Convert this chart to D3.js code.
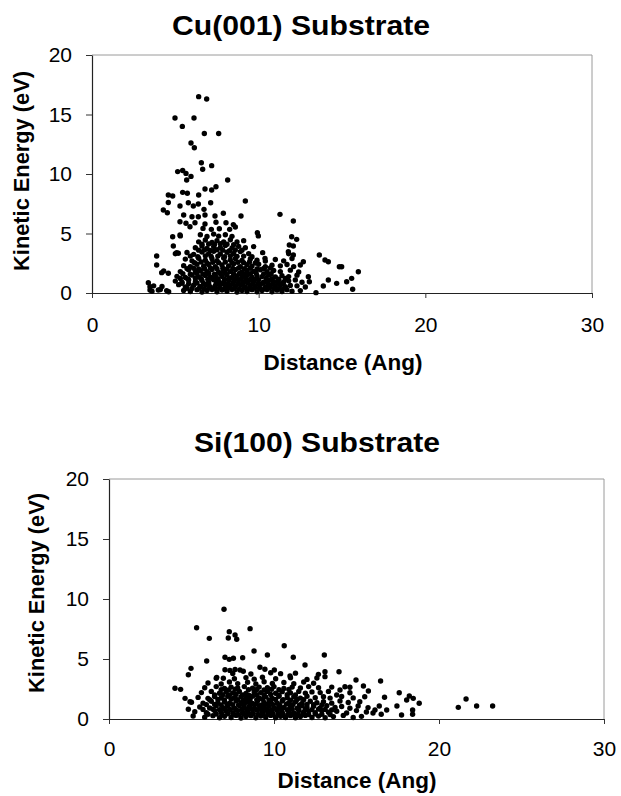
<!DOCTYPE html>
<html>
<head>
<meta charset="utf-8">
<script src="https://cdn.jsdelivr.net/npm/d3@7"></script>
<style>
  html, body { margin: 0; padding: 0; background: #fff; }
  svg { display: block; }
  text { font-family: "Liberation Sans", Arial, sans-serif; fill: #000; }
</style>
</head>
<body>
<svg id="chart" width="621" height="796"></svg>
<script>
// ---------- data ----------
const xTicks = [0, 10, 20, 30];
const yTicks = [0, 5, 10, 15, 20];
const titles = ["Cu(001) Substrate", "Si(100) Substrate"];
const xLabel = "Distance (Ang)";
const yLabel = "Kinetic Energy (eV)";

// Cu(001): [distance (Ang), kinetic energy (eV)]
const cuPoints = [
  [6.4,16.5],[6.88,16.3],[4.98,14.7],[6.12,14.7],[5.42,14.0],[6.74,13.4],[7.6,13.4],[5.94,12.6],[6.14,12.2],
  [6.56,10.95],[7.18,10.7],[6.64,10.4],[5.14,10.2],[5.44,10.3],[5.64,10.05],[5.68,9.5],[5.94,9.8],[8.14,9.5],
  [6.78,8.74],[7.18,8.66],[7.44,8.93],[5.44,8.46],[5.72,8.38],[4.58,8.24],[4.84,8.15],[6.4,8.24],[4.58,7.6],
  [5.28,7.31],[5.78,7.59],[6.08,7.31],[6.38,7.48],[7.12,7.59],[6.72,7.03],[9.2,7.73],[4.28,6.97],[4.52,6.75],
  [5.5,6.55],[6.0,6.41],[6.38,6.41],[6.78,6.55],[7.38,6.47],[7.88,6.7],[8.94,6.47],[11.28,6.61],[12.08,6.05],
  [5.28,5.99],[5.64,5.86],[5.88,5.57],[6.18,5.9],[6.78,5.8],[7.44,5.95],[8.04,5.9],[8.48,5.75],[6.66,5.43],
  [7.16,5.35],[7.64,5.4],[8.26,5.35],[8.6,5.55],[9.92,5.07],[9.98,4.8],[5.28,4.87],[4.84,4.73],[11.98,4.73],
  [12.28,4.51],[11.84,4.03],[12.08,3.95],[11.78,3.47],[4.88,3.95],[5.08,3.39],[5.18,3.34],[12.08,3.2],
  [10.24,3.39],[10.38,2.91],[13.64,3.19],[13.98,2.77],[14.18,2.63],[12.68,2.63],[3.88,3.11],[3.88,2.35],
  [4.18,1.71],[4.58,1.66],[3.38,0.87],[3.48,0.53],[3.48,0.25],[3.98,0.25],[4.48,0.2],[14.84,2.21],[14.18,1.09],
  [14.68,0.81],[13.44,0.03],[12.98,1.37],[13.04,0.95],[14.98,2.21],[15.98,1.79],[15.58,1.23],[15.28,0.95],
  [15.64,0.31],[13.88,0.59],
  // dense core
  [3.6,0.15],[4.1,0.3],[4.6,0.1],[5.5,0.22],[5.9,0.12],[6.3,0.28],[6.6,0.08],[6.9,0.2],[7.2,0.3],[7.5,0.1],
  [7.8,0.25],[8.1,0.14],[8.4,0.3],[8.7,0.08],[9.0,0.22],[9.3,0.12],[9.6,0.28],[9.9,0.1],[10.2,0.2],[10.5,0.3],
  [10.8,0.1],[11.1,0.24],[11.4,0.12],[11.7,0.28],[12.0,0.15],[12.5,0.2],
  [3.7,0.6],[4.2,0.55],[5.2,0.7],[5.6,0.5],[6.1,0.65],[6.5,0.55],[6.8,0.7],[7.1,0.5],[7.4,0.62],[7.7,0.72],
  [8.0,0.52],[8.3,0.66],[8.6,0.56],[8.9,0.7],[9.2,0.5],[9.5,0.64],[9.8,0.58],[10.1,0.72],[10.4,0.5],[10.7,0.66],
  [11.0,0.55],[11.3,0.7],[11.6,0.52],[11.9,0.64],[12.3,0.6],[12.8,0.5],
  [5.0,1.0],[5.4,0.9],[5.8,1.1],[6.2,0.95],[6.6,1.05],[7.0,0.92],[7.3,1.12],[7.6,1.0],[7.9,0.9],[8.2,1.08],
  [8.5,0.96],[8.8,1.1],[9.1,0.92],[9.4,1.04],[9.7,0.98],[10.0,1.12],[10.3,0.9],[10.6,1.06],[10.9,0.95],
  [11.2,1.1],[11.5,0.92],[11.8,1.02],[12.2,1.1],[12.6,0.9],
  [5.1,1.4],[5.6,1.3],[6.0,1.5],[6.4,1.35],[6.8,1.48],[7.1,1.32],[7.4,1.45],[7.8,1.38],[8.1,1.52],[8.4,1.3],
  [8.7,1.44],[9.0,1.36],[9.3,1.5],[9.6,1.32],[9.9,1.46],[10.2,1.38],[10.6,1.5],[11.0,1.34],[11.4,1.46],
  [11.8,1.38],[12.3,1.5],
  [4.3,1.85],[5.3,1.8],[5.8,1.95],[6.2,1.75],[6.5,1.9],[6.9,1.8],[7.2,1.98],[7.6,1.74],[7.9,1.88],[8.3,1.8],
  [8.6,1.96],[9.0,1.76],[9.3,1.9],[9.7,1.82],[10.1,1.95],[10.5,1.78],[10.9,1.9],[11.3,1.8],[11.9,1.92],[12.4,1.76],
  [5.5,2.3],[5.9,2.2],[6.3,2.42],[6.7,2.25],[7.0,2.4],[7.4,2.22],[7.8,2.36],[8.2,2.28],[8.5,2.46],[8.9,2.2],
  [9.3,2.38],[9.6,2.26],[10.0,2.42],[10.4,2.2],[10.8,2.34],[11.3,2.28],[11.7,2.4],[12.1,2.22],[12.5,2.35],
  [5.6,2.85],[6.0,2.7],[6.4,2.92],[6.8,2.75],[7.2,2.88],[7.5,2.72],[7.9,2.95],[8.3,2.78],[8.6,2.9],[9.0,2.74],
  [9.5,2.86],[9.9,2.76],[10.4,2.68],[11.0,2.82],[11.5,2.7],[12.0,2.9],
  [5.0,3.3],[5.7,3.4],[6.1,3.25],[6.6,3.45],[7.0,3.3],[7.3,3.5],[7.7,3.28],[8.1,3.42],[8.5,3.32],[8.9,3.48],
  [9.4,3.3],[11.8,3.3],
  [6.2,3.8],[6.6,3.95],[6.9,3.75],[7.3,3.9],[7.7,3.8],[8.0,4.0],[8.4,3.78],[8.8,3.92],[9.2,3.8],[9.7,3.9],
  [6.4,4.3],[6.8,4.45],[7.2,4.25],[7.5,4.4],[7.9,4.3],[8.3,4.48],[8.7,4.28],[9.1,4.4],
  [5.3,4.8],[6.5,4.9],[6.9,4.75],[7.3,4.95],[7.6,4.78],[8.0,4.9],[8.4,4.76],
  // dense core, second layer
  [5.7,0.4],[6.0,0.38],[6.45,0.42],[6.75,0.36],[7.05,0.44],[7.35,0.38],[7.65,0.42],[7.95,0.36],[8.25,0.44],
  [8.55,0.4],[8.85,0.36],[9.15,0.44],[9.45,0.38],[9.75,0.42],[10.05,0.4],[10.35,0.36],[10.65,0.44],[10.95,0.4],
  [11.25,0.38],[11.55,0.42],
  [5.4,0.82],[5.8,0.78],[6.3,0.84],[6.7,0.8],[7.0,0.76],[7.45,0.84],[7.85,0.8],[8.15,0.78],[8.45,0.84],
  [8.75,0.8],[9.05,0.76],[9.35,0.84],[9.65,0.8],[9.95,0.78],[10.25,0.84],[10.55,0.8],[10.85,0.76],[11.15,0.82],
  [11.45,0.8],
  [5.3,1.22],[5.75,1.18],[6.2,1.24],[6.55,1.2],[6.95,1.16],[7.25,1.24],[7.55,1.2],[7.95,1.18],[8.25,1.24],
  [8.6,1.2],[8.95,1.16],[9.25,1.22],[9.55,1.2],[9.85,1.18],[10.45,1.22],[10.8,1.2],[11.2,1.16],[11.6,1.22],
  [5.45,1.62],[5.9,1.58],[6.3,1.64],[6.65,1.6],[7.0,1.66],[7.35,1.58],[7.7,1.62],[8.0,1.66],[8.5,1.6],
  [8.85,1.64],[9.15,1.58],[9.5,1.62],[9.85,1.66],[10.3,1.6],[10.75,1.62],
  [5.7,2.05],[6.1,2.08],[6.4,2.02],[6.75,2.06],[7.1,2.1],[7.5,2.04],[7.85,2.08],[8.1,2.02],[8.45,2.06],
  [8.8,2.1],[9.15,2.04],[9.5,2.08],[9.9,2.02],[10.3,2.06],[10.7,2.1],
  [6.15,2.55],[6.55,2.6],[6.9,2.52],[7.25,2.58],[7.6,2.55],[8.0,2.6],[8.4,2.52],[8.75,2.58],[9.1,2.55],
  [9.45,2.6],[9.8,2.52],
  [5.9,3.1],[6.35,3.05],[6.8,3.12],[7.15,3.08],[7.55,3.1],[7.95,3.05],[8.3,3.12],[8.7,3.08],[9.1,3.1],[9.6,3.05],
  [6.4,3.6],[6.75,3.62],[7.1,3.58],[7.5,3.64],[7.85,3.6],[8.25,3.56],[8.6,3.62],[9.0,3.6],
  [6.6,4.1],[7.0,4.12],[7.35,4.08],[7.7,4.14],[8.1,4.1],[8.5,4.06]
];

// Si(100): [distance (Ang), kinetic energy (eV)]
const siPoints = [
  [6.97,9.14],[5.31,7.61],[8.55,7.53],[7.29,7.28],[7.64,7.0],[7.74,6.64],[7.23,6.75],[6.08,6.72],[10.62,6.11],
  [8.79,5.67],[9.6,5.33],[11.17,5.14],[13.05,5.33],[7.03,5.14],[7.29,4.97],[7.54,5.06],[8.1,5.11],[5.92,4.83],
  [4.97,4.22],[4.81,3.69],[7.03,4.1],[7.33,4.05],[7.64,4.12],[7.94,4.08],[8.14,3.98],[9.15,4.31],[9.45,4.14],
  [10.02,4.08],[10.97,3.58],[11.88,4.5],[12.69,3.72],[13.09,3.94],[13.09,3.53],[13.94,3.94],[6.53,3.47],
  [6.93,3.39],[4.0,2.56],[4.34,2.47],[4.61,1.72],[4.91,1.44],[4.81,0.81],[5.1,0.25],[14.3,2.69],[14.0,2.42],
  [13.8,2.0],[14.97,3.25],[16.46,3.17],[15.42,2.75],[15.72,2.33],[14.6,2.64],[14.6,2.19],[17.59,2.19],
  [18.2,1.92],[18.44,1.72],[18.04,1.58],[18.8,1.31],[16.7,1.81],[17.45,1.08],[18.4,0.75],[18.4,0.4],[17.73,0.33],
  [21.17,0.97],[21.64,1.67],[22.28,1.08],[23.25,1.08],[16.38,1.08],[16.12,0.75],[16.5,0.4],[16.83,0.75],
  // dense core
  [5.8,0.15],[6.3,0.28],[6.7,0.1],[7.0,0.22],[7.4,0.12],[7.7,0.3],[8.0,0.08],[8.3,0.2],[8.6,0.28],[8.9,0.1],
  [9.2,0.24],[9.5,0.14],[9.8,0.3],[10.1,0.1],[10.4,0.22],[10.7,0.12],[11.0,0.28],[11.3,0.1],[11.6,0.2],
  [11.9,0.3],[12.3,0.12],[12.7,0.24],[13.1,0.1],[13.6,0.2],[14.2,0.3],[14.8,0.12],[15.3,0.22],
  [5.2,0.6],[5.9,0.52],[6.4,0.7],[6.8,0.55],[7.1,0.66],[7.5,0.5],[7.8,0.7],[8.1,0.56],[8.4,0.64],[8.7,0.5],
  [9.0,0.72],[9.3,0.58],[9.6,0.66],[9.9,0.52],[10.2,0.7],[10.5,0.55],[10.9,0.64],[11.2,0.5],[11.5,0.7],
  [11.8,0.58],[12.1,0.66],[12.5,0.52],[12.9,0.7],[13.3,0.56],[13.8,0.64],[14.4,0.5],[15.0,0.7],[15.6,0.58],[16.0,0.5],
  [5.5,1.0],[6.1,0.92],[6.5,1.1],[6.9,0.95],[7.2,1.06],[7.6,0.9],[7.9,1.12],[8.2,0.96],[8.5,1.04],[8.8,0.9],
  [9.1,1.1],[9.4,0.98],[9.7,1.06],[10.0,0.92],[10.3,1.1],[10.6,0.96],[11.0,1.04],[11.4,0.9],[11.7,1.1],
  [12.0,0.98],[12.4,1.06],[12.8,0.92],[13.2,1.1],[13.7,0.96],[14.1,1.04],[14.6,0.9],[15.1,1.08],[15.7,0.95],
  [5.0,1.4],[5.7,1.32],[6.2,1.48],[6.6,1.35],[7.0,1.45],[7.3,1.3],[7.7,1.5],[8.0,1.36],[8.4,1.44],[8.7,1.3],
  [9.0,1.5],[9.4,1.38],[9.8,1.46],[10.2,1.32],[10.5,1.5],[10.9,1.36],[11.3,1.44],[11.7,1.3],[12.2,1.48],
  [12.6,1.36],[13.0,1.44],[13.5,1.32],[14.0,1.5],[14.5,1.38],[15.2,1.44],
  [5.4,1.8],[6.0,1.72],[6.4,1.88],[6.8,1.75],[7.2,1.9],[7.6,1.78],[8.0,1.86],[8.3,1.72],[8.7,1.9],[9.1,1.76],
  [9.5,1.84],[9.9,1.72],[10.3,1.9],[10.8,1.78],[11.2,1.86],[11.6,1.74],[12.0,1.9],[12.5,1.78],[13.0,1.86],
  [13.4,1.74],[14.1,1.88],[14.8,1.76],[15.5,1.85],
  [5.6,2.2],[6.2,2.3],[6.7,2.15],[7.1,2.28],[7.5,2.18],[7.9,2.3],[8.3,2.12],[8.8,2.26],[9.2,2.2],[9.6,2.3],
  [10.1,2.14],[10.5,2.28],[11.0,2.18],[11.5,2.3],[11.9,2.16],[12.3,2.26],[12.8,2.2],[13.3,2.3],
  [5.8,2.6],[6.5,2.7],[7.0,2.55],[7.4,2.66],[7.8,2.58],[8.2,2.7],[8.7,2.56],[9.1,2.66],[9.6,2.6],[10.0,2.7],
  [10.6,2.55],[11.1,2.66],[11.6,2.58],[12.1,2.7],[12.7,2.6],[13.5,2.66],
  [6.0,3.0],[6.8,2.92],[7.3,3.08],[7.8,2.95],[8.4,3.06],[8.9,2.92],[9.4,3.1],[9.9,2.96],[10.6,3.04],[11.2,2.94],
  [11.8,3.08],[12.4,2.98],
  [6.5,3.4],[7.6,3.35],[8.3,3.45],[8.8,3.32],[9.3,3.48],[10.1,3.36],[11.0,3.44],[12.0,3.3],[12.6,3.42],
  [7.5,3.8],[8.6,3.75],[9.8,3.85],[10.4,3.78],[11.3,3.82],
  // dense core, second layer
  [6.0,0.4],[6.5,0.42],[6.85,0.38],[7.2,0.44],[7.55,0.4],[7.85,0.36],[8.15,0.42],[8.45,0.4],[8.75,0.44],
  [9.05,0.38],[9.35,0.42],[9.65,0.4],[9.95,0.36],[10.25,0.44],[10.55,0.4],[10.85,0.38],[11.15,0.42],
  [11.45,0.4],[11.75,0.44],[12.1,0.38],[12.5,0.42],[12.9,0.4],[13.4,0.38],
  [5.7,0.8],[6.3,0.82],[6.7,0.78],[7.0,0.84],[7.35,0.8],[7.7,0.76],[8.05,0.82],[8.35,0.8],[8.65,0.84],
  [8.95,0.78],[9.25,0.82],[9.55,0.8],[9.85,0.76],[10.15,0.84],[10.45,0.8],[10.8,0.78],[11.1,0.82],[11.5,0.8],
  [11.9,0.84],[12.3,0.78],[12.7,0.82],[13.1,0.8],[13.5,0.76],
  [5.9,1.2],[6.4,1.22],[6.8,1.18],[7.15,1.24],[7.5,1.2],[7.85,1.16],[8.2,1.22],[8.55,1.2],[8.9,1.24],
  [9.25,1.18],[9.6,1.22],[9.95,1.2],[10.35,1.16],[10.75,1.24],[11.15,1.2],[11.55,1.18],[12.0,1.22],[12.4,1.2],
  [12.9,1.18],
  [6.1,1.6],[6.6,1.62],[7.0,1.58],[7.4,1.64],[7.8,1.6],[8.15,1.56],[8.55,1.62],[8.95,1.6],[9.3,1.64],
  [9.7,1.58],[10.1,1.62],[10.55,1.6],[11.0,1.56],[11.4,1.62],[11.8,1.6],
  [6.4,2.0],[6.9,2.02],[7.3,1.98],[7.7,2.04],[8.1,2.0],[8.5,1.96],[8.95,2.02],[9.4,2.0],[9.8,2.04],
  [10.3,1.98],[10.8,2.02],[11.3,2.0],
  [6.8,2.45],[7.25,2.42],[7.65,2.48],[8.45,2.44],[8.95,2.46],[9.4,2.42],[9.85,2.48],[10.3,2.44],[10.9,2.46]
];

// ---------- drawing ----------
const svg = d3.select("#chart");

const panels = [
  { title: titles[0], points: cuPoints, left: 92, right: 592, top: 55, bottom: 293,
    titleX: 301, titleY: 35, titleLen: 258, xPad: 19,
    xLabelX: 343, xLabelY: 370, yLabelX: 29, yLabelY: 171 },
  { title: titles[1], points: siPoints, left: 109, right: 604, top: 479, bottom: 719,
    titleX: 317, titleY: 452, titleLen: 246, xPad: 17,
    xLabelX: 357, xLabelY: 788, yLabelX: 44, yLabelY: 593 }
];

panels.forEach(p => {
  const x = d3.scaleLinear().domain([0, 30]).range([p.left, p.right]);
  const y = d3.scaleLinear().domain([0, 20]).range([p.bottom, p.top]);
  const g = svg.append("g");

  // frame (top & right light grey)
  g.append("path")
    .attr("d", `M${p.left},${p.top}H${p.right}V${p.bottom}`)
    .attr("fill", "none").attr("stroke", "#9a9a9a").attr("stroke-width", 1);

  // axes
  const xAxis = d3.axisBottom(x).tickValues(xTicks).tickSize(5).tickSizeOuter(0).tickPadding(p.xPad);
  const yAxis = d3.axisLeft(y).tickValues(yTicks).tickSize(6).tickSizeOuter(0).tickPadding(14);

  const gx = g.append("g").attr("transform", `translate(0,${p.bottom})`).call(xAxis);
  const gy = g.append("g").attr("transform", `translate(${p.left},0)`).call(yAxis);
  [gx, gy].forEach(a => {
    a.select(".domain").attr("stroke", "#222").attr("stroke-width", 1.2);
    a.selectAll(".tick line").attr("stroke", "#333");
    a.selectAll(".tick text").style("font-size", "21px").attr("fill", "#000")
      .style("font-family", "'Liberation Sans', Arial, sans-serif");
  });

  // points
  g.append("g").selectAll("circle").data(p.points).join("circle")
    .attr("cx", d => x(d[0])).attr("cy", d => y(d[1])).attr("r", 2.7).attr("fill", "#000");

  // titles
  g.append("text").attr("x", p.titleX).attr("y", p.titleY)
    .attr("text-anchor", "middle").style("font-size", "28px").style("font-weight", "bold")
    .attr("textLength", p.titleLen).attr("lengthAdjust", "spacingAndGlyphs")
    .text(p.title);

  g.append("text").attr("x", p.xLabelX).attr("y", p.xLabelY)
    .attr("text-anchor", "middle").style("font-size", "22.5px").style("font-weight", "bold")
    .text(xLabel);

  g.append("text").attr("transform", `translate(${p.yLabelX},${p.yLabelY}) rotate(-90)`)
    .attr("text-anchor", "middle").style("font-size", "21.8px").style("font-weight", "bold")
    .text(yLabel);
});
</script>
</body>
</html>
